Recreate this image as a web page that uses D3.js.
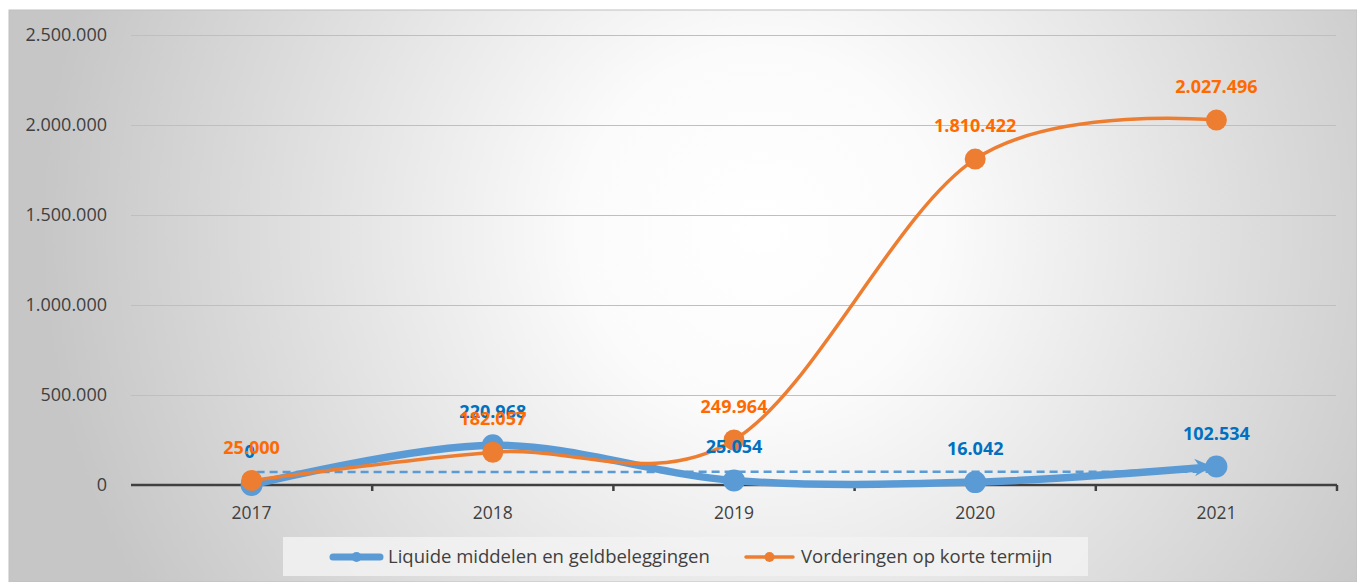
<!DOCTYPE html>
<html>
<head>
<meta charset="utf-8">
<script src="https://cdn.jsdelivr.net/npm/d3@7"></script>
<style>
  body { margin: 0; background: #fff; }
  svg text { font-family: "Open Sans", "Noto Sans", sans-serif; }
</style>
</head>
<body>
<div id="chart"></div>
<script>
//Chart data
var years = ["2017", "2018", "2019", "2020", "2021"];
var liquide = [0, 220968, 25054, 16042, 102534];
var vorderingen = [25000, 182057, 249964, 1810422, 2027496];
var yTicks = [0, 500000, 1000000, 1500000, 2000000, 2500000];
var seriesNames = ["Liquide middelen en geldbeleggingen", "Vorderingen op korte termijn"];

var width = 1357, height = 582;
var margin = {top: 35, right: 20, bottom: 97, left: 131};
var plotRight = 1337;

var blue = "#5B9BD5", orange = "#ED7D31";
var blueLbl = "#0070C0", orangeLbl = "#FF6A00";

//Dutch number format
var nl = d3.formatLocale({decimal: ",", thousands: ".", grouping: [3], currency: ["€", ""]});
var fmt = nl.format(",.0f");

var svg = d3.select("#chart").append("svg")
    .attr("width", width)
    .attr("height", height);

var defs = svg.append("defs");
var grad = defs.append("radialGradient")
    .attr("id", "bg")
    .attr("gradientUnits", "userSpaceOnUse")
    .attr("cx", 760).attr("cy", 230).attr("r", 720);
grad.append("stop").attr("offset", "0").attr("stop-color", "#ffffff");
grad.append("stop").attr("offset", "0.25").attr("stop-color", "#fbfbfb");
grad.append("stop").attr("offset", "1").attr("stop-color", "#c6c6c6");

defs.append("marker")
    .attr("id", "arrow")
    .attr("viewBox", "0 0 10 10")
    .attr("refX", 9).attr("refY", 5)
    .attr("markerWidth", 7).attr("markerHeight", 8)
    .attr("markerUnits", "strokeWidth")
    .attr("orient", "auto")
  .append("path")
    .attr("d", "M0,0 L10,5 L0,10 L3,5 Z")
    .attr("fill", blue);

//Background
svg.append("rect")
    .attr("x", 9).attr("y", 10)
    .attr("width", width - 9).attr("height", height - 10)
    .attr("fill", "url(#bg)")
    .attr("stroke", "#c0c0c0");

//Scales
var x = d3.scaleBand().domain(years).range([margin.left, plotRight]);
var y = d3.scaleLinear().domain([0, 2500000]).range([485, 35]);
var cx = function(d, i) { return x(years[i]) + x.bandwidth() / 2; };

//Horizontal grid
svg.append("g")
    .attr("transform", "translate(" + margin.left + ",0)")
    .call(d3.axisLeft(y).tickValues(yTicks.slice(1)).tickSize(-(plotRight - margin.left - 1)).tickFormat(""))
    .call(function(g) { g.select(".domain").remove(); })
    .selectAll("line").attr("stroke", "#bfbfbf").attr("stroke-width", 1);

//Y labels
svg.append("g").selectAll("text")
    .data(yTicks)
    .enter().append("text")
    .attr("x", 107)
    .attr("y", function(d) { return y(d); })
    .attr("dy", "0.35em")
    .attr("text-anchor", "end")
    .attr("font-size", 18)
    .attr("fill", "#404040")
    .text(function(d) { return fmt(d); });

//X axis
var xAxis = svg.append("g")
    .attr("transform", "translate(0," + y(0) + ")");
xAxis.append("line")
    .attr("x1", margin.left).attr("x2", plotRight)
    .attr("stroke", "#404040").attr("stroke-width", 2.5);
xAxis.selectAll(".tk")
    .data(years)
    .enter().append("line")
    .attr("class", "tk")
    .attr("x1", function(d) { return x(d) + x.bandwidth(); })
    .attr("x2", function(d) { return x(d) + x.bandwidth(); })
    .attr("y1", 0).attr("y2", 6)
    .attr("stroke", "#404040").attr("stroke-width", 2.5);
xAxis.selectAll(".lbl")
    .data(years)
    .enter().append("text")
    .attr("class", "lbl")
    .attr("x", function(d) { return x(d) + x.bandwidth() / 2; })
    .attr("y", 34)
    .attr("text-anchor", "middle")
    .attr("font-size", 17.5)
    .attr("fill", "#404040")
    .text(function(d) { return d; });

var lineGen = d3.line()
    .x(cx)
    .y(function(d) { return y(d); })
    .curve(d3.curveCardinal.tension(0));

//Blue series
svg.append("path")
    .datum(liquide)
    .attr("d", lineGen)
    .attr("fill", "none")
    .attr("stroke", blue)
    .attr("stroke-width", 7.5)
    .attr("stroke-linecap", "round");

//Linear trendline for blue series
var n = liquide.length, mx = (n - 1) / 2, my = d3.mean(liquide);
var slope = d3.sum(liquide, function(v, i) { return (i - mx) * (v - my); }) /
            d3.sum(liquide, function(v, i) { return (i - mx) * (i - mx); });
var trend = [my - slope * mx, my + slope * (n - 1 - mx)];
svg.append("line")
    .attr("x1", cx(null, 0) + 5).attr("y1", y(trend[0]))
    .attr("x2", cx(null, n - 1) - 8).attr("y2", y(trend[1]))
    .attr("stroke", blue)
    .attr("stroke-width", 2.5)
    .attr("stroke-dasharray", "8,5");

//Arrow at the end of the blue line
svg.append("line")
    .attr("x1", cx(null, n - 2) + 120).attr("y1", y((liquide[n - 2] + liquide[n - 1]) / 2 + 8000))
    .attr("x2", cx(null, n - 1) - 6).attr("y2", y(liquide[n - 1]))
    .attr("stroke", blue)
    .attr("stroke-width", 2.5)
    .attr("marker-end", "url(#arrow)");

//Orange series
svg.append("path")
    .datum(vorderingen)
    .attr("d", lineGen)
    .attr("fill", "none")
    .attr("stroke", orange)
    .attr("stroke-width", 3.5);

//Markers
svg.append("g").selectAll("circle")
    .data(liquide)
    .enter().append("circle")
    .attr("cx", cx)
    .attr("cy", function(d) { return y(d); })
    .attr("r", 11)
    .attr("fill", blue);

svg.append("g").selectAll("circle")
    .data(vorderingen)
    .enter().append("circle")
    .attr("cx", cx)
    .attr("cy", function(d) { return y(d); })
    .attr("r", 10.5)
    .attr("fill", orange);

//Data labels
svg.append("g").selectAll("text")
    .data(liquide)
    .enter().append("text")
    .attr("x", function(d, i) { return cx(d, i) - (i === 0 ? 2 : 0); })
    .attr("y", function(d) { return y(d) - 27; })
    .attr("text-anchor", "middle")
    .attr("font-size", 18)
    .attr("font-weight", "bold")
    .attr("fill", blueLbl)
    .text(function(d) { return fmt(d); });

svg.append("g").selectAll("text")
    .data(vorderingen)
    .enter().append("text")
    .attr("x", cx)
    .attr("y", function(d) { return y(d) - 27; })
    .attr("text-anchor", "middle")
    .attr("font-size", 18)
    .attr("font-weight", "bold")
    .attr("fill", orangeLbl)
    .text(function(d) { return fmt(d); });

//Legend
var legend = svg.append("g");
legend.append("rect")
    .attr("x", 283).attr("y", 537)
    .attr("width", 805).attr("height", 39)
    .attr("fill", "#f2f2f2")
    .attr("opacity", 0.85);

var legendItems = [
  {name: seriesNames[0], color: blue, w: 7, x: 333},
  {name: seriesNames[1], color: orange, w: 3.5, x: 746}
];
var li = legend.selectAll(".item")
    .data(legendItems)
    .enter().append("g")
    .attr("class", "item")
    .attr("transform", function(d) { return "translate(" + d.x + ",557)"; });
li.append("line")
    .attr("x1", 0).attr("x2", 47)
    .attr("stroke", function(d) { return d.color; })
    .attr("stroke-width", function(d) { return d.w; })
    .attr("stroke-linecap", "round");
li.append("circle")
    .attr("cx", 23.5).attr("r", 5)
    .attr("fill", function(d) { return d.color; });
li.append("text")
    .attr("x", 55)
    .attr("dy", "0.35em")
    .attr("font-size", 18.5)
    .attr("fill", "#404040")
    .text(function(d) { return d.name; });
</script>
</body>
</html>
